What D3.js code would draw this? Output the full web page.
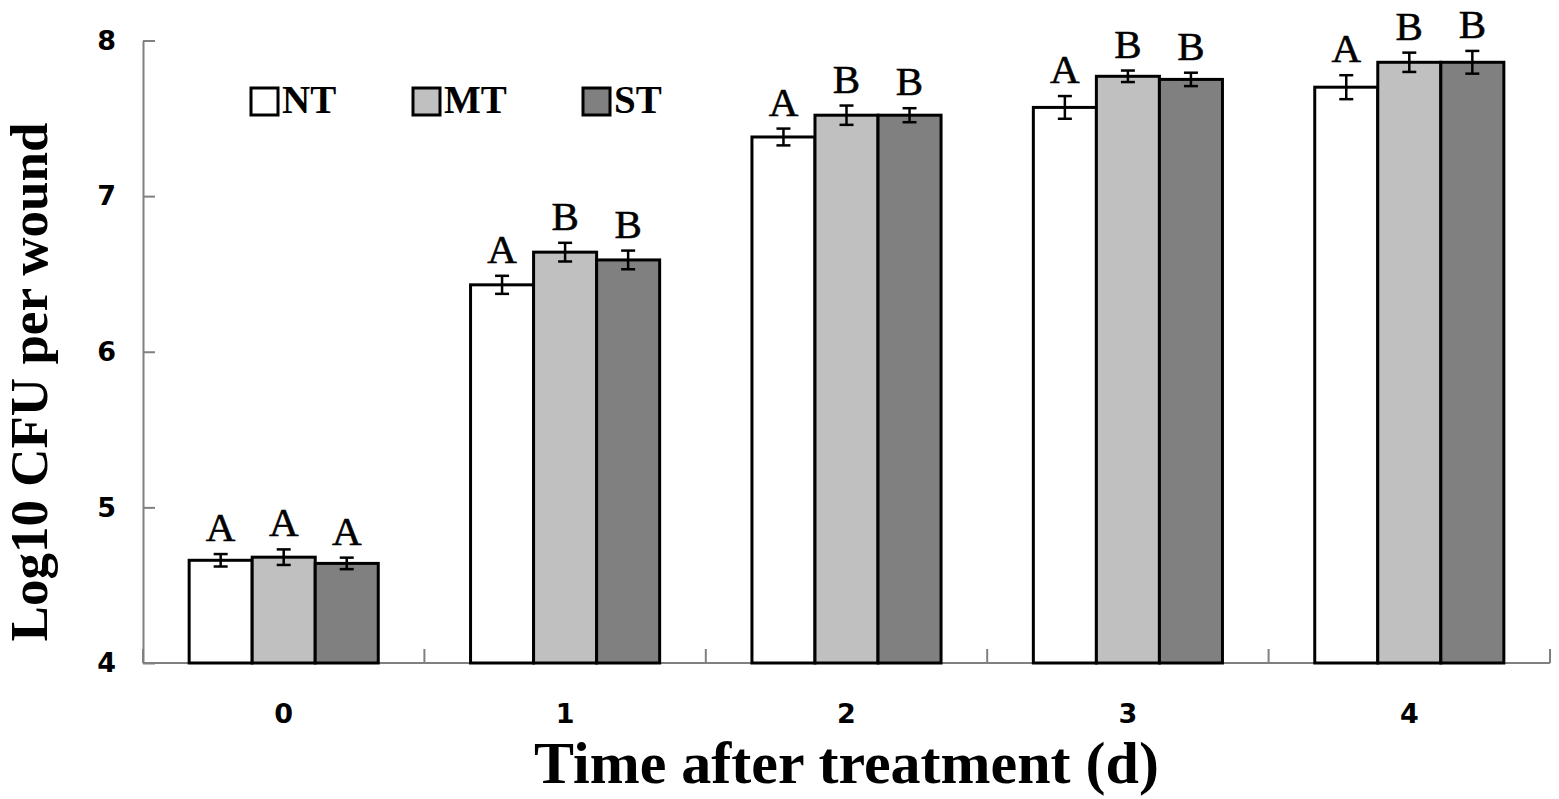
<!DOCTYPE html>
<html>
<head>
<meta charset="utf-8">
<script src="https://cdn.jsdelivr.net/npm/d3@7"></script>
<style>
  html, body { margin: 0; padding: 0; background: #fff; }
  svg { display: block; }
</style>
</head>
<body>
<div id="chart"></div>
<script>
"use strict";

// data
const days = ["0", "1", "2", "3", "4"];
const groups = ["NT", "MT", "ST"];
const ntMean = [4.66, 6.43, 7.38, 7.57, 7.70];
const mtMean = [4.68, 6.64, 7.52, 7.77, 7.86];
const stMean = [4.64, 6.59, 7.52, 7.75, 7.86];
const ntErr = [0.04, 0.058, 0.054, 0.073, 0.077];
const mtErr = [0.05, 0.06, 0.062, 0.037, 0.062];
const stErr = [0.037, 0.06, 0.045, 0.043, 0.073];
const ntLetter = ["A", "A", "A", "A", "A"];
const mtLetter = ["A", "B", "B", "B", "B"];
const stLetter = ["A", "B", "B", "B", "B"];
const yTicks = [4, 5, 6, 7, 8];

const fills = { NT: "#ffffff", MT: "#c0c0c0", ST: "#808080" };

const W = 1559, H = 799;
const plot = { left: 143, right: 1550, top: 40.5, bottom: 663 };

const svg = d3.select("#chart").append("svg")
    .attr("width", W)
    .attr("height", H)
    .attr("viewBox", `0 0 ${W} ${H}`);

//----------------------------SCALES----------------------------//
const x0 = d3.scaleBand()
    .domain(days)
    .range([plot.left, plot.right])
    .paddingInner(0.328)
    .paddingOuter(0.164);

const x1 = d3.scaleBand()
    .domain(groups)
    .range([0, x0.bandwidth()]);

const y = d3.scaleLinear()
    .domain([4, 8])
    .range([plot.bottom, plot.top]);

// build rows for the bars
const means = { NT: ntMean, MT: mtMean, ST: stMean };
const errs = { NT: ntErr, MT: mtErr, ST: stErr };
const letters = { NT: ntLetter, MT: mtLetter, ST: stLetter };
const rows = [];
days.forEach((d, i) => {
    groups.forEach(g => {
        rows.push({ day: d, group: g, v: means[g][i], e: errs[g][i], letter: letters[g][i] });
    });
});

//-----------------------------AXES-----------------------------//
const axisColor = "#808080";
const tickFont = "'DejaVu Sans', Verdana, sans-serif";
const serif = "'Liberation Serif', 'Times New Roman', serif";

const yaxis = svg.append("g")
    .attr("class", "axis yaxis")
    .attr("transform", `translate(${plot.left},0)`)
    .call(d3.axisLeft(y).tickValues(yTicks).tickSizeInner(-12).tickSizeOuter(0).tickPadding(27).tickFormat(d3.format("d")));

yaxis.select(".domain").attr("stroke", axisColor).attr("stroke-width", 2);
yaxis.selectAll(".tick line").attr("stroke", axisColor).attr("stroke-width", 2);
yaxis.selectAll(".tick text")
    .attr("fill", "#000")
    .style("font-family", tickFont)
    .style("font-weight", "bold")
    .style("font-size", "27px");

// x axis: baseline with ticks at category boundaries
const boundaries = d3.range(days.length + 1).map(k => plot.left + k * x0.step());
const xaxis = svg.append("g").attr("class", "axis xaxis");
xaxis.append("line")
    .attr("x1", plot.left).attr("x2", plot.right)
    .attr("y1", plot.bottom).attr("y2", plot.bottom)
    .attr("stroke", axisColor).attr("stroke-width", 2);
xaxis.selectAll("line.tick")
    .data(boundaries)
    .join("line")
    .attr("class", "tick")
    .attr("x1", d => d).attr("x2", d => d)
    .attr("y1", plot.bottom).attr("y2", plot.bottom - 14)
    .attr("stroke", axisColor).attr("stroke-width", 2);
xaxis.selectAll("text")
    .data(days)
    .join("text")
    .attr("x", d => x0(d) + x0.bandwidth() / 2)
    .attr("y", 723)
    .attr("text-anchor", "middle")
    .style("font-family", tickFont)
    .style("font-weight", "bold")
    .style("font-size", "27px")
    .text(d => d);

//-----------------------------BARS-----------------------------//
const barX = d => x0(d.day) + x1(d.group);

svg.append("g").selectAll("rect")
    .data(rows)
    .join("rect")
    .attr("x", barX)
    .attr("y", d => y(d.v))
    .attr("width", x1.bandwidth())
    .attr("height", d => y(4) - y(d.v))
    .attr("fill", d => fills[d.group])
    .attr("stroke", "#000")
    .attr("stroke-width", 3);

// error bars
const cap = 7;
const eb = svg.append("g").attr("stroke", "#000").attr("stroke-width", 2.5);
rows.forEach(d => {
    const cx = barX(d) + x1.bandwidth() / 2;
    eb.append("line").attr("x1", cx).attr("x2", cx).attr("y1", y(d.v + d.e)).attr("y2", y(d.v - d.e));
    eb.append("line").attr("x1", cx - cap).attr("x2", cx + cap).attr("y1", y(d.v + d.e)).attr("y2", y(d.v + d.e));
    eb.append("line").attr("x1", cx - cap).attr("x2", cx + cap).attr("y1", y(d.v - d.e)).attr("y2", y(d.v - d.e));
});

// significance letters
svg.append("g").selectAll("text")
    .data(rows)
    .join("text")
    .attr("x", d => barX(d) + x1.bandwidth() / 2)
    .attr("y", d => y(d.v + d.e) - 13)
    .attr("text-anchor", "middle")
    .style("font-family", serif)
    .style("font-size", "41px")
    .style("stroke", "#000")
    .style("stroke-width", 0.6)
    .text(d => d.letter);

//----------------------------LEGEND----------------------------//
const legendX = [251, 413, 583];
const legend = svg.append("g").selectAll("g")
    .data(groups)
    .join("g")
    .attr("transform", (d, i) => `translate(${legendX[i]},88)`);
legend.append("rect")
    .attr("width", 27).attr("height", 27)
    .attr("fill", d => fills[d])
    .attr("stroke", "#000").attr("stroke-width", 3);
legend.append("text")
    .attr("x", 31).attr("y", 25)
    .style("font-family", serif)
    .style("font-weight", "bold")
    .style("font-size", "39px")
    .text(d => d);

//----------------------------TITLES----------------------------//
svg.append("text")
    .attr("x", (plot.left + plot.right) / 2)
    .attr("y", 783)
    .attr("text-anchor", "middle")
    .style("font-family", serif)
    .style("font-weight", "bold")
    .style("font-size", "60px")
    .text("Time after treatment (d)");

svg.append("text")
    .attr("transform", "translate(47,382) rotate(-90)")
    .attr("text-anchor", "middle")
    .style("font-family", serif)
    .style("font-weight", "bold")
    .style("font-size", "53px")
    .text("Log10 CFU per wound");
</script>
</body>
</html>
